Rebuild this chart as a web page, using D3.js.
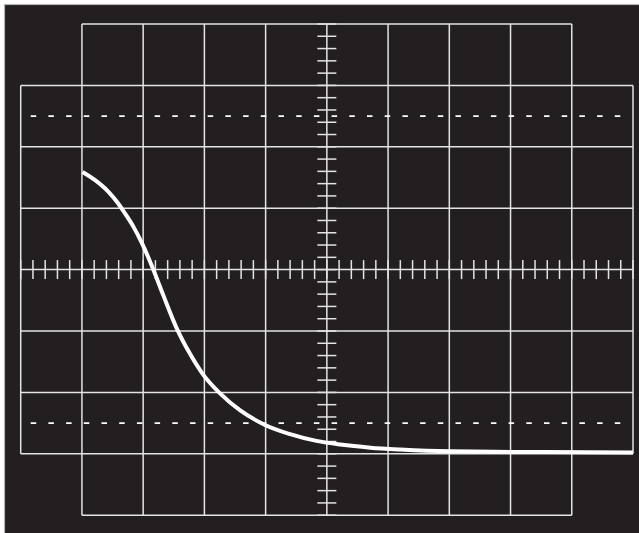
<!DOCTYPE html>
<html>
<head>
<meta charset="utf-8">
<script src="https://cdn.jsdelivr.net/npm/d3@7"></script>
<style>
  html, body { margin: 0; padding: 0; background: #ffffff; }
  svg { display: block; }
</style>
</head>
<body>
<svg id="chart" width="639" height="533"></svg>
<script>
// Trace: horizontal divisions (time) and vertical divisions (amplitude)
const traceTime  = [1.01, 1.21, 1.43, 1.59, 1.70, 1.84, 1.98, 2.10, 2.17, 2.33, 2.55, 2.77, 2.98, 3.26, 3.58, 3.99, 4.40, 4.83, 5.22, 5.71, 6.20, 7.01, 8.16, 10.0];
const traceLevel = [1.59, 1.46, 1.27, 1.08, 0.92, 0.70, 0.43, 0.16, -0.01, -0.42, -0.96, -1.38, -1.71, -2.02, -2.29, -2.53, -2.68, -2.79, -2.85, -2.90, -2.93, -2.96, -2.97, -2.98];
// Graticule
const xDivisions = [0, 1, 2, 3, 4, 5, 6, 7, 8, 9, 10];
const yDivisions = [-4, -3, -2, -1, 0, 1, 2, 3, 4];
const dashedLevels = [2.5, -2.5];
const minorStep = 0.2;

const svg = d3.select("#chart");
const x = d3.scaleLinear().domain([0, 10]).range([20.7, 633]);
const y = d3.scaleLinear().domain([-4, 4]).range([515.2, 24]);

// screen background
svg.append("rect")
  .attr("x", 4.5).attr("y", 4.5).attr("width", 640).attr("height", 540)
  .attr("fill", "#231f20").attr("stroke", "#b5b5b5").attr("stroke-width", 1.2);

const gridColor = "#e4e4e4";
const g = svg.append("g");

// vertical grid lines
g.selectAll("line.v").data(xDivisions).join("line")
  .attr("x1", d => x(d)).attr("x2", d => x(d))
  .attr("y1", d => (d === 0 || d === 10) ? y(3) : y(4))
  .attr("y2", d => (d === 0 || d === 10) ? y(-3) : y(-4))
  .attr("stroke", gridColor).attr("stroke-width", 1.5);

// horizontal grid lines
g.selectAll("line.h").data(yDivisions).join("line")
  .attr("y1", d => y(d)).attr("y2", d => y(d))
  .attr("x1", d => Math.abs(d) === 4 ? x(1) : x(0))
  .attr("x2", d => Math.abs(d) === 4 ? x(9) : x(10))
  .attr("stroke", gridColor).attr("stroke-width", 1.5);

// minor ticks on centre axes
const hTicks = d3.range(0, 10 + 1e-9, minorStep);
const vTicks = d3.range(-4, 4 + 1e-9, minorStep);
g.selectAll("line.ht").data(hTicks).join("line")
  .attr("x1", d => x(d)).attr("x2", d => x(d))
  .attr("y1", y(0) - 9.5).attr("y2", y(0) + 9.5)
  .attr("stroke", gridColor).attr("stroke-width", 1.5);
g.selectAll("line.vt").data(vTicks).join("line")
  .attr("y1", d => y(d)).attr("y2", d => y(d))
  .attr("x1", x(5) - 9.5).attr("x2", x(5) + 9.5)
  .attr("stroke", gridColor).attr("stroke-width", 1.5);

// dashed reference levels
g.selectAll("line.dash").data(dashedLevels).join("line")
  .attr("y1", d => y(d)).attr("y2", d => y(d))
  .attr("x1", 30.7).attr("x2", 621)
  .attr("stroke", "#ffffff").attr("stroke-width", 1.8)
  .attr("stroke-dasharray", "5.5,12.2");

// trace
const pts = traceTime.map((t, i) => [t, traceLevel[i]]);
svg.append("path")
  .datum(pts)
  .attr("d", d3.line().x(d => x(d[0])).y(d => y(d[1])).curve(d3.curveMonotoneX))
  .attr("fill", "none").attr("stroke", "#ffffff").attr("stroke-width", 4)
  .attr("stroke-linecap", "butt").attr("stroke-linejoin", "round");
</script>
</body>
</html>
